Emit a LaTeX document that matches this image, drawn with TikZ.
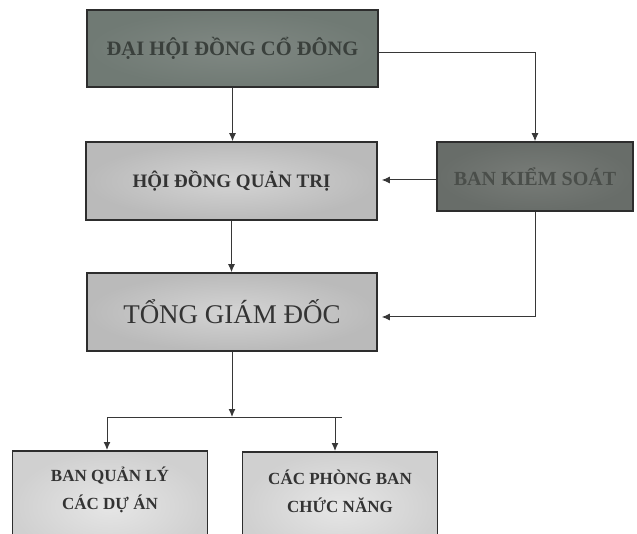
\documentclass[tikz,border=0pt]{standalone}
\usepackage{fontspec}
\setmainfont{Liberation Serif}
\usepackage{tikz}
\usetikzlibrary{arrows.meta,positioning}

\definecolor{boxline}{RGB}{45,45,45}
\definecolor{linkgray}{RGB}{55,55,55}
\definecolor{darkfill}{RGB}{112,122,116}
\definecolor{darkmid}{RGB}{128,136,131}
\definecolor{darktext}{RGB}{58,64,60}
\definecolor{bksfill}{RGB}{104,109,105}
\definecolor{bksmid}{RGB}{120,124,120}
\definecolor{bkstext}{RGB}{74,78,74}
\definecolor{lightout}{RGB}{186,186,186}
\definecolor{lightin}{RGB}{212,212,212}
\definecolor{subout}{RGB}{208,208,208}
\definecolor{subin}{RGB}{230,230,230}

\begin{document}
\begin{tikzpicture}[x=1pt,y=-1pt,
  basebox/.style={draw=boxline,line width=1.6pt,inner sep=0pt},
  darkbox/.style={basebox,shade,inner color=darkmid,outer color=darkfill,text=darktext},
  lightbox/.style={basebox,shade,inner color=lightin,outer color=lightout,text=black!80},
  subbox/.style={basebox,shade,inner color=subin,outer color=subout,anchor=north,
    minimum width=195pt,minimum height=110pt},
  subtext/.style={align=center,text=black!80,font=\bfseries\fontsize{17}{28}\selectfont},
  link/.style={draw=linkgray,line width=1pt,-{Latex[length=8pt,width=7pt]}},
  bar/.style={draw=linkgray,line width=1pt}
]
\clip (0,0) rectangle (637,534);
\fill[white] (0,0) rectangle (637,534);

% boxes
\node[darkbox,minimum width=291pt,minimum height=77pt,
  font=\bfseries\fontsize{20.5}{24}\selectfont] (dhcd) at (232.5,48.5) {ĐẠI HỘI ĐỒNG CỔ ĐÔNG};
\node[lightbox,minimum width=291pt,minimum height=78pt,
  font=\bfseries\fontsize{19}{22}\selectfont] (hdqt) at (231.5,181) {HỘI ĐỒNG QUẢN TRỊ};
\node[basebox,shade,inner color=bksmid,outer color=bksfill,text=bkstext,
  minimum width=196pt,minimum height=69pt,
  font=\bfseries\fontsize{20}{24}\selectfont] (bks) at (535,176.5) {BAN KIỂM SOÁT};
\node[lightbox,minimum width=290pt,minimum height=78pt,
  font=\fontsize{27}{30}\selectfont] (tgd) at (232,312) {TỔNG GIÁM ĐỐC};
\node[subbox] (ql) at (110,450) {};
\node[subbox] (pb) at (340,451) {};
\node[subtext] (qltext) at ([yshift=-40pt]ql.north) {BAN QUẢN LÝ\\CÁC DỰ ÁN};
\node[subtext] (pbtext) at ([yshift=-40pt]pb.north) {CÁC PHÒNG BAN\\CHỨC NĂNG};

% connectors
\coordinate (barleft) at (107,417);
\coordinate (barright) at (342,417);
\draw[link] (dhcd.south) -- (dhcd.south |- hdqt.north);
\draw[link] ([yshift=-4.5pt]dhcd.east) -| (bks.north);
\draw[link,shorten >=4pt] ([yshift=-3.5pt]bks.west) -- ([yshift=-3.5pt]bks.west -| hdqt.east);
\draw[link,shorten >=4pt] (bks.south) |- ([yshift=-5pt]tgd.east);
\draw[link] (hdqt.south) -- (hdqt.south |- tgd.north);
\draw[link] (tgd.south) -- (tgd.south |- barleft);
\draw[bar] (barleft) -- (barright);
\draw[link] (barleft) -- (barleft |- ql.north);
\draw[link] ([xshift=-5pt]pb.north |- barleft) -- ([xshift=-5pt]pb.north);
\end{tikzpicture}
\end{document}
